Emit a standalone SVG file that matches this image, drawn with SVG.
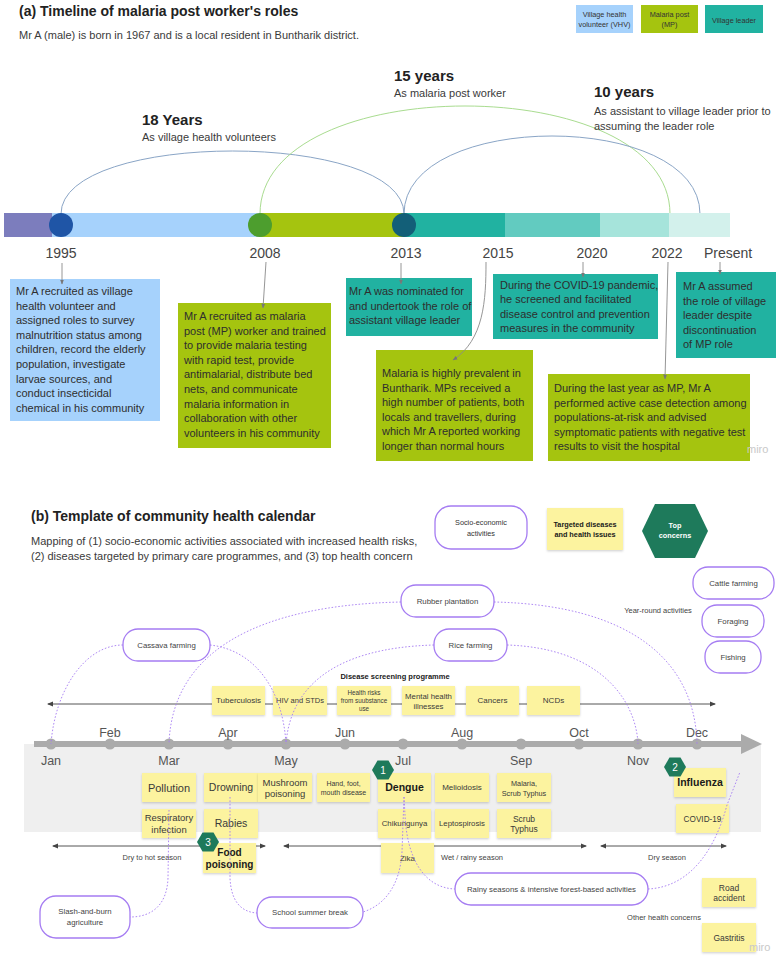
<svg xmlns="http://www.w3.org/2000/svg" width="779" height="958" viewBox="0 0 779 958">
<defs>
<style>
text{font-family:"Liberation Sans",Arial,sans-serif;fill:#333}
.h{font-weight:bold;fill:#222}
.sub{font-size:11px;fill:#3a3a3a}
.yr{font-size:14px;fill:#444;text-anchor:middle}
.bt{font-size:11px;fill:#2e2e2e}
.lg{font-size:7.3px;fill:#333;text-anchor:middle}
.conn{stroke:#8a8a8a;stroke-width:0.9;fill:none}
.arc{fill:none;stroke-width:1}
.pill{fill:#fff;stroke:#a57cf2;stroke-width:1.3}
.pt{font-size:7.8px;fill:#444;text-anchor:middle}
.st{fill:#fcf39f;filter:url(#sh)}
.s{fill:#3a3a3a;text-anchor:middle}
.b{font-weight:bold;fill:#1a1a1a}
.dot{fill:none;stroke:#a57cf2;stroke-width:0.9;stroke-dasharray:1.6 1.8}
.mon{font-size:12.5px;fill:#555;text-anchor:middle}
.md{fill:#ababab}
.hex{fill:#1e7a5b}
.hn{font-size:10px;fill:#fff;text-anchor:middle}
.sea{stroke:#555;stroke-width:1;fill:none;marker-start:url(#dh);marker-end:url(#dh)}
.sl{font-size:7.5px;fill:#444;text-anchor:middle}
.miro{font-size:11px;fill:#c9c9c9}
</style>
<filter id="sh" x="-10%" y="-10%" width="125%" height="140%">
<feDropShadow dx="0" dy="1.2" stdDeviation="0.9" flood-color="#000" flood-opacity="0.18"/>
</filter>
<marker id="ah" markerUnits="userSpaceOnUse" markerWidth="5" markerHeight="5" refX="4.5" refY="2.5" orient="auto">
<path d="M0,0.5 L5,2.5 L0,4.5z" fill="#777"/>
</marker>
<marker id="dh" markerUnits="userSpaceOnUse" markerWidth="6" markerHeight="6" refX="5" refY="3" orient="auto-start-reverse">
<path d="M0,0.5 L6,3 L0,5.5z" fill="#444"/>
</marker>
</defs>
<rect width="779" height="958" fill="#fff"/>

<!-- ===== (a) ===== -->
<g id="title-a">
<text x="19" y="16" class="h" font-size="14">(a) Timeline of malaria post worker's roles</text>
<text x="19" y="39" class="sub">Mr A (male) is born in 1967 and is a local resident in Buntharik district.</text>
</g>

<g id="legend-a">
<g id="leg-vhv"><rect x="576" y="5" width="57" height="28" fill="#a6d2fc"/>
<text class="lg" x="604.5" y="17">Village health</text><text class="lg" x="604.5" y="27">volunteer (VHV)</text></g>
<g id="leg-mp"><rect x="641" y="5" width="57" height="28" fill="#a5c40f"/>
<text class="lg" x="669.5" y="17">Malaria post</text><text class="lg" x="669.5" y="27">(MP)</text></g>
<g id="leg-vl"><rect x="705" y="5" width="58" height="28" fill="#21b2a1"/>
<text class="lg" x="734" y="22.5">Village leader</text></g>
</g>

<g id="arcs">
<path class="arc" stroke="#8aa5c6" d="M61,214 C61,130 404,130 404,214"/>
<path class="arc" stroke="#a9dc90" d="M260,214 C260,70 670,70 670,214"/>
<path class="arc" stroke="#8aa5c6" d="M404,214 C404,110 700,110 700,214"/>
</g>

<g id="arc-labels">
<text x="142" y="125" class="h" font-size="15">18 Years</text>
<text x="142" y="141" class="sub">As village health volunteers</text>
<text x="394" y="81" class="h" font-size="15">15 years</text>
<text x="394" y="97" class="sub">As malaria post worker</text>
<text x="594" y="97" class="h" font-size="15">10 years</text>
<text x="594" y="115" class="sub">As assistant to village leader prior to</text>
<text x="594" y="130" class="sub">assuming the leader role</text>
</g>

<g id="timeline-bar">
<rect x="4" y="213" width="48" height="24" fill="#7c7dbd"/>
<rect x="52" y="213" width="209" height="24" fill="#a6d2fc"/>
<rect x="261" y="213" width="143" height="24" fill="#a5c40f"/>
<rect x="404" y="213" width="101" height="24" fill="#21b2a1"/>
<rect x="505" y="213" width="95" height="24" fill="#62cbc0"/>
<rect x="600" y="213" width="69" height="24" fill="#a6e4db"/>
<rect x="669" y="213" width="61" height="24" fill="#d3f1ec"/>
<circle id="c1995" cx="61" cy="225" r="12" fill="#1f55a6"/>
<circle id="c2008" cx="260" cy="225" r="12" fill="#4d9e2e"/>
<circle id="c2013" cx="404" cy="225" r="12" fill="#135f78"/>
</g>

<g id="years">
<text class="yr" x="61" y="258">1995</text>
<text class="yr" x="265" y="258">2008</text>
<text class="yr" x="406" y="258">2013</text>
<text class="yr" x="498" y="258">2015</text>
<text class="yr" x="592" y="258">2020</text>
<text class="yr" x="667" y="258">2022</text>
<text class="yr" x="728" y="258">Present</text>
</g>

<g id="box-1995">
<rect x="10" y="279" width="150" height="142" fill="#a6d2fc"/>
<text class="bt"><tspan x="16" y="295">Mr A recruited as village</tspan><tspan x="16" y="309.6">health volunteer and</tspan><tspan x="16" y="324.2">assigned roles to survey</tspan><tspan x="16" y="338.8">malnutrition status among</tspan><tspan x="16" y="353.4">children, record the elderly</tspan><tspan x="16" y="368">population, investigate</tspan><tspan x="16" y="382.6">larvae sources, and</tspan><tspan x="16" y="397.2">conduct insecticidal</tspan><tspan x="16" y="411.8">chemical in his community</tspan></text>
</g>

<g id="box-2008">
<rect x="178" y="303" width="153" height="145" fill="#a5c40f"/>
<text class="bt"><tspan x="184" y="320">Mr A recruited as malaria</tspan><tspan x="184" y="334.6">post (MP) worker and trained</tspan><tspan x="184" y="349.2">to provide malaria testing</tspan><tspan x="184" y="363.8">with rapid test, provide</tspan><tspan x="184" y="378.4">antimalarial, distribute bed</tspan><tspan x="184" y="393">nets, and communicate</tspan><tspan x="184" y="407.6">malaria information in</tspan><tspan x="184" y="422.2">collaboration with other</tspan><tspan x="184" y="436.8">volunteers in his community</tspan></text>
</g>

<g id="box-2013">
<rect x="346" y="278" width="126" height="58" fill="#21b2a1"/>
<text class="bt"><tspan x="349" y="295">Mr A was nominated for</tspan><tspan x="349" y="309.6">and undertook the role of</tspan><tspan x="349" y="324.2">assistant village leader</tspan></text>
</g>

<g id="box-2020">
<rect x="493" y="274" width="165" height="65" fill="#21b2a1"/>
<text class="bt"><tspan x="500" y="288.5">During the COVID-19 pandemic,</tspan><tspan x="500" y="303">he screened and facilitated</tspan><tspan x="500" y="317.5">disease control and prevention</tspan><tspan x="500" y="332">measures in the community</tspan></text>
</g>

<g id="box-present">
<rect x="676" y="272" width="100" height="86" fill="#21b2a1"/>
<text class="bt"><tspan x="683" y="290">Mr A assumed</tspan><tspan x="683" y="304.6">the role of village</tspan><tspan x="683" y="319.2">leader despite</tspan><tspan x="683" y="333.8">discontinuation</tspan><tspan x="683" y="348.4">of MP role</tspan></text>
</g>

<g id="box-2015">
<rect x="376" y="350" width="157" height="111" fill="#a5c40f"/>
<text class="bt"><tspan x="382" y="377">Malaria is highly prevalent in</tspan><tspan x="382" y="391.6">Buntharik. MPs received a</tspan><tspan x="382" y="406.2">high number of patients, both</tspan><tspan x="382" y="420.8">locals and travellers, during</tspan><tspan x="382" y="435.4">which Mr A reported working</tspan><tspan x="382" y="450">longer than normal hours</tspan></text>
</g>

<g id="box-2022">
<rect x="548" y="374" width="202" height="87" fill="#a5c40f"/>
<text class="bt"><tspan x="554" y="392">During the last year as MP, Mr A</tspan><tspan x="554" y="406.6">performed active case detection among</tspan><tspan x="554" y="421.2">populations-at-risk and advised</tspan><tspan x="554" y="435.8">symptomatic patients with negative test</tspan><tspan x="554" y="450.4">results to visit the hospital</tspan></text>
</g>

<g id="connectors-a">
<path class="conn" marker-end="url(#ah)" d="M62,263 L62,284"/>
<path class="conn" marker-end="url(#ah)" d="M266,262 L263,308"/>
<path class="conn" marker-end="url(#ah)" d="M401,263 L401,284"/>
<path class="conn" marker-end="url(#ah)" d="M486,262 C486,300 484,340 453,360"/>
<path class="conn" marker-end="url(#ah)" d="M583,262 L583,277"/>
<path class="conn" marker-end="url(#ah)" d="M668,262 L665,379"/>
<path class="conn" marker-end="url(#ah)" d="M720,262 L720,274"/>
</g>
<text class="miro" x="747" y="453">miro</text>

<!-- ===== (b) ===== -->
<g id="title-b">
<text x="31" y="521" class="h" font-size="14">(b) Template of community health calendar</text>
<text x="31" y="545" class="sub">Mapping of (1) socio-economic activities associated with increased health risks,</text>
<text x="31" y="560" class="sub">(2) diseases targeted by primary care programmes, and (3) top health concern</text>
</g>

<g id="legend-b">
<g id="leg-socio"><rect class="pill" x="435" y="506" width="92" height="43" rx="16"/>
<text class="lg" x="481" y="525">Socio-economic</text><text class="lg" x="481" y="536">activities</text></g>
<g id="leg-target"><rect class="st" x="547" y="508" width="76" height="42"/>
<text class="lg b" x="585" y="527">Targeted diseases</text><text class="lg b" x="585" y="537">and health issues</text></g>
<g id="leg-top"><polygon class="hex" points="642,531 655,504 695,504 708,531 695,558 655,558"/>
<text class="lg" font-weight="bold" style="fill:#fff" x="675" y="528">Top</text><text class="lg" font-weight="bold" style="fill:#fff" x="675" y="538">concerns</text></g>
</g>

<rect id="panel" x="24" y="744" width="737" height="88" fill="#efefef"/>

<g id="axis">
<line x1="34" y1="744" x2="743" y2="744" stroke="#ababab" stroke-width="6"/>
<polygon points="741,734 762,744 741,754" fill="#ababab"/>
<circle class="md" cx="51" cy="744" r="5.5"/><circle class="md" cx="110" cy="744" r="5.5"/>
<circle class="md" cx="169" cy="744" r="5.5"/><circle class="md" cx="228" cy="744" r="5.5"/>
<circle class="md" cx="286" cy="744" r="5.5"/><circle class="md" cx="345" cy="744" r="5.5"/>
<circle class="md" cx="403" cy="744" r="5.5"/><circle class="md" cx="462" cy="744" r="5.5"/>
<circle class="md" cx="521" cy="744" r="5.5"/><circle class="md" cx="579" cy="744" r="5.5"/>
<circle class="md" cx="638" cy="744" r="5.5"/><circle class="md" cx="697" cy="744" r="5.5"/>
</g>
<g id="months">
<text class="mon" x="51" y="765">Jan</text><text class="mon" x="110" y="737">Feb</text>
<text class="mon" x="169" y="765">Mar</text><text class="mon" x="228" y="737">Apr</text>
<text class="mon" x="286" y="765">May</text><text class="mon" x="345" y="737">Jun</text>
<text class="mon" x="403" y="765">Jul</text><text class="mon" x="462" y="737">Aug</text>
<text class="mon" x="521" y="765">Sep</text><text class="mon" x="579" y="737">Oct</text>
<text class="mon" x="638" y="765">Nov</text><text class="mon" x="697" y="737">Dec</text>
</g>

<g id="screening">
<text x="395" y="679" font-size="7.5" class="b" text-anchor="middle">Disease screening programme</text>
<line class="sea" x1="48" y1="704" x2="715" y2="704"/>
</g>

<g id="seasons">
<line class="sea" x1="53" y1="846" x2="265" y2="846"/>
<text class="sl" x="152" y="860">Dry to hot season</text>
<line class="sea" x1="284" y1="846" x2="586" y2="846"/>
<text class="sl" x="472" y="860">Wet / rainy season</text>
<line class="sea" x1="601" y1="846" x2="726" y2="846"/>
<text class="sl" x="667" y="860">Dry season</text>
</g>

<g id="tb"><rect class="st" x="212" y="686" width="53" height="29"/><text class="s" font-size="8" x="238.5" y="703.3">Tuberculosis</text></g>
<g id="hiv"><rect class="st" x="273" y="686" width="54" height="29"/><text class="s" font-size="7.5" x="300" y="703.2">HIV and STDs</text></g>
<g id="substance"><rect class="st" x="337" y="686" width="54" height="29"/><text class="s" font-size="6.3"><tspan x="364" y="694.5">Health risks</tspan><tspan x="364" y="702.5">from suubstance</tspan><tspan x="364" y="710.5">use</tspan></text></g>
<g id="mental"><rect class="st" x="402" y="686" width="53" height="29"/><text class="s" font-size="7.8"><tspan x="428.5" y="699">Mental health</tspan><tspan x="428.5" y="708.5">illnesses</tspan></text></g>
<g id="cancers"><rect class="st" x="466" y="686" width="53" height="29"/><text class="s" font-size="8" x="492.5" y="703.3">Cancers</text></g>
<g id="ncds"><rect class="st" x="527" y="686" width="53" height="29"/><text class="s" font-size="8" x="553.5" y="703.3">NCDs</text></g>

<g id="pollution"><rect class="st" x="142" y="773" width="54" height="29"/><text class="s" font-size="11" x="169" y="791.5">Pollution</text></g>
<g id="drowning"><rect class="st" x="204" y="773" width="54" height="29"/><text class="s" font-size="10.5" x="231" y="791.3">Drowning</text></g>
<g id="mushroom"><rect class="st" x="258" y="773" width="54" height="29"/><text class="s" font-size="9.5"><tspan x="285" y="785.5">Mushroom</tspan><tspan x="285" y="797">poisoning</tspan></text></g>
<g id="hfmd"><rect class="st" x="317" y="773" width="53" height="29"/><text class="s" font-size="7"><tspan x="343.5" y="786">Hand, foot,</tspan><tspan x="343.5" y="795">mouth disease</tspan></text></g>
<g id="dengue"><rect class="st" x="378" y="773" width="53" height="29"/><text class="s b" font-size="10.5" x="404.5" y="791.3">Dengue</text></g>
<g id="melioidosis"><rect class="st" x="435" y="773" width="54" height="29"/><text class="s" font-size="8" x="462" y="790.3">Melioidosis</text></g>
<g id="malaria"><rect class="st" x="497" y="773" width="54" height="29"/><text class="s" font-size="7.3"><tspan x="524" y="786">Malaria,</tspan><tspan x="524" y="795.5">Scrub Typhus</tspan></text></g>
<g id="influenza"><rect class="st" x="674" y="768" width="52" height="29"/><text class="s b" font-size="10.5" x="700" y="786.3">Influenza</text></g>

<g id="respiratory"><rect class="st" x="142" y="809" width="54" height="29"/><text class="s" font-size="9.5"><tspan x="169" y="821">Respiratory</tspan><tspan x="169" y="832.5">infection</tspan></text></g>
<g id="rabies"><rect class="st" x="204" y="809" width="54" height="29"/><text class="s" font-size="10.5" x="231" y="827.3">Rabies</text></g>
<g id="chikungunya"><rect class="st" x="378" y="809" width="53" height="29"/><text class="s" font-size="7.8" x="404.5" y="826.3">Chikungunya</text></g>
<g id="leptospirosis"><rect class="st" x="435" y="809" width="54" height="29"/><text class="s" font-size="7.8" x="462" y="826.3">Leptospirosis</text></g>
<g id="scrub"><rect class="st" x="497" y="809" width="54" height="29"/><text class="s" font-size="8.5"><tspan x="524" y="821.5">Scrub</tspan><tspan x="524" y="832">Typhus</tspan></text></g>
<g id="covid"><rect class="st" x="676" y="804" width="53" height="29"/><text class="s" font-size="8.2" x="702.5" y="821.5">COVID-19</text></g>

<g id="food"><rect class="st" x="203" y="843" width="53" height="30"/><text class="s b" font-size="10"><tspan x="229.5" y="855.5">Food</tspan><tspan x="229.5" y="867.5">poisoning</tspan></text></g>
<g id="zika"><rect class="st" x="381" y="843" width="53" height="30"/><text class="s" font-size="8" x="407.5" y="860.8">Zika</text></g>
<g id="road"><rect class="st" x="702" y="878" width="54" height="29"/><text class="s" font-size="8.5"><tspan x="729" y="890.5">Road</tspan><tspan x="729" y="901">accident</tspan></text></g>
<g id="gastritis"><rect class="st" x="702" y="923" width="54" height="29"/><text class="s" font-size="8.5" x="729" y="940.5">Gastritis</text></g>
<text class="sl" x="664" y="920" font-size="7.7">Other health concerns</text>

<g id="badge-1"><polygon class="hex" points="372,770 377.5,760.5 388.5,760.5 394,770 388.5,779.5 377.5,779.5"/><text class="hn" x="383" y="773.6">1</text></g>
<g id="badge-2"><polygon class="hex" points="664,767 669.5,757.5 680.5,757.5 686,767 680.5,776.5 669.5,776.5"/><text class="hn" x="675" y="770.6">2</text></g>
<g id="badge-3"><polygon class="hex" points="197,842 202.5,832.5 213.5,832.5 219,842 213.5,851.5 202.5,851.5"/><text class="hn" x="208" y="845.6">3</text></g>

<g id="connectors-b">
<path class="dot" d="M123,645 C85,645 55,690 51,744"/>
<path class="dot" d="M210,645 C255,650 283,690 286,744"/>
<path class="dot" d="M401,602 C260,605 172,650 169,744"/>
<path class="dot" d="M494,602 C630,605 695,660 697,744"/>
<path class="dot" d="M434,645 C330,648 290,690 286,744"/>
<path class="dot" d="M507,645 C600,648 636,700 638,744"/>
<path class="dot" d="M169,810 L168,878 C167,905 152,917 130,917"/>
<path class="dot" d="M230,797 L230,878 C231,900 240,912 257,913"/>
<path class="dot" d="M404,797 L402,852 C400,885 385,905 363,912"/>
<path class="dot" d="M404,797 L405,815 C407,860 425,888 455,889"/>
<path class="dot" d="M648,889 C690,887 715,850 727,805 L740,772"/>
</g>

<g id="rubber"><rect class="pill" x="401" y="585" width="93" height="32" rx="15"/><text class="pt" x="447.5" y="604">Rubber plantation</text></g>
<g id="cassava"><rect class="pill" x="123" y="629" width="87" height="32" rx="15"/><text class="pt" x="166.5" y="648">Cassava farming</text></g>
<g id="rice"><rect class="pill" x="434" y="629" width="73" height="32" rx="15"/><text class="pt" x="470.5" y="648">Rice farming</text></g>
<g id="cattle"><rect class="pill" x="693" y="567" width="81" height="32" rx="15"/><text class="pt" x="733.5" y="586">Cattle farming</text></g>
<g id="foraging"><rect class="pill" x="702" y="605" width="62" height="32" rx="15"/><text class="pt" x="733" y="624">Foraging</text></g>
<g id="fishing"><rect class="pill" x="705" y="641" width="56" height="32" rx="15"/><text class="pt" x="733" y="660">Fishing</text></g>
<text class="sl" x="658" y="613">Year-round activities</text>
<g id="slash"><rect class="pill" x="40" y="896" width="90" height="42" rx="16"/><text class="pt"><tspan x="85" y="914">Slash-and-burn</tspan><tspan x="85" y="925">agriculture</tspan></text></g>
<g id="school"><rect class="pill" x="257" y="897" width="106" height="31" rx="15"/><text class="pt" font-size="7.5" x="310" y="915">School summer break</text></g>
<g id="rainy"><rect class="pill" x="455" y="873" width="193" height="32" rx="16"/><text class="pt" font-size="7.5" x="551.5" y="892">Rainy seasons &amp; intensive forest-based activities</text></g>

<text class="miro" x="749" y="951">miro</text>
</svg>
